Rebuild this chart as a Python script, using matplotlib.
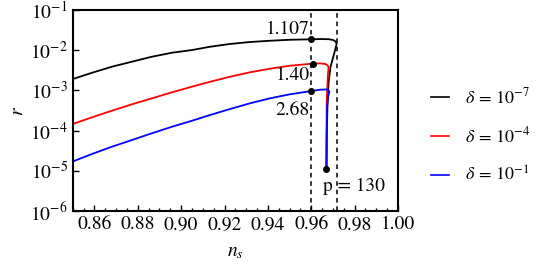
import matplotlib
matplotlib.use("Agg")
import matplotlib.pyplot as plt
from matplotlib.ticker import MultipleLocator, LogLocator, NullLocator

plt.rcParams["font.family"] = "STIXGeneral"
plt.rcParams["mathtext.fontset"] = "stix"

# n_s grid for the rising part of the curves
ns_main = [0.8497, 0.8589, 0.8681, 0.8773, 0.8865, 0.8958, 0.9050, 0.9133, 0.9225,
		   0.9317, 0.9409, 0.9501, 0.9601]

# black curve, delta = 1e-7
r_black_main = [1.89e-3, 2.75e-3, 3.89e-3, 5.18e-3, 6.89e-3, 8.67e-3, 1.01e-2, 1.22e-2, 1.43e-2,
				1.60e-2, 1.72e-2, 1.82e-2, 1.87e-2]
ns_black_tail = [0.9640, 0.9680, 0.9700, 0.9712, 0.9717, 0.9705, 0.9689, 0.9680, 0.9675, 0.9672, 0.9670]
r_black_tail = [1.90e-2, 1.88e-2, 1.80e-2, 1.65e-2, 1.43e-2, 8.0e-3, 3.9e-3, 1.6e-3, 5.0e-4, 1.0e-4, 1.1e-5]

# red curve, delta = 1e-4
r_red_main = [1.44e-4, 2.14e-4, 3.13e-4, 4.51e-4, 6.35e-4, 8.97e-4, 1.24e-3, 1.64e-3, 2.19e-3,
			  2.82e-3, 3.47e-3, 4.11e-3, 4.61e-3]
ns_red_tail = [0.9640, 0.9665, 0.9676, 0.9680, 0.9677, 0.9673, 0.9671, 0.9670]
r_red_tail = [4.70e-3, 4.55e-3, 4.2e-3, 3.7e-3, 2.5e-3, 1.0e-3, 4.0e-4, 1.1e-5]

# blue curve, delta = 1e-1
r_blue_main = [1.68e-5, 2.62e-5, 3.98e-5, 5.83e-5, 8.57e-5, 1.25e-4, 1.76e-4, 2.44e-4, 3.44e-4,
			   4.77e-4, 6.35e-4, 8.0e-4, 9.66e-4]
ns_blue_tail = [0.9640, 0.9671, 0.9680, 0.9683, 0.9678, 0.9673, 0.9671, 0.9670]
r_blue_tail = [1.04e-3, 1.06e-3, 1.0e-3, 9.3e-4, 7.0e-4, 3.94e-4, 7.1e-5, 1.1e-5]

dot_ns = [0.9600, 0.9607, 0.9600, 0.9670]
dot_r = [1.88e-2, 4.65e-3, 9.7e-4, 1.1e-5]

dot_labels = ["1.107", "1.40", "2.68"]
label_r = [3.3e-2, 2.4e-3, 3.2e-4]
vlines = [0.960, 0.9717]

fig = plt.figure(figsize=(5.45, 2.71), dpi=100)
ax = fig.add_axes([0.1334, 0.2214, 0.5969, 0.7416])

ax.plot(ns_main + ns_black_tail, r_black_main + r_black_tail, color="black", lw=1.3,
		label=r"$\delta\,=\,10^{-7}$")
ax.plot(ns_main + ns_red_tail, r_red_main + r_red_tail, color="red", lw=1.3,
		label=r"$\delta\,=\,10^{-4}$")
ax.plot(ns_main + ns_blue_tail, r_blue_main + r_blue_tail, color="blue", lw=1.3,
		label=r"$\delta\,=\,10^{-1}$")
ax.plot(dot_ns, dot_r, "o", color="black", ms=4, zorder=5)

for xv in vlines:
	ax.axvline(xv, color="black", ls=(0, (3, 2.5)), lw=1.1)

for txt, rv in zip(dot_labels, label_r):
	ax.text(0.9592, rv, txt, ha="right", va="center", fontsize=14)
ax.text(0.9652, 4.2e-6, "p = 130", ha="left", va="center", fontsize=14)

ax.set_xlim(0.85, 1.0)
ax.set_ylim(1e-6, 1e-1)
ax.set_yscale("log")
ax.xaxis.set_major_locator(MultipleLocator(0.02))
ax.xaxis.set_minor_locator(MultipleLocator(0.005))
ax.yaxis.set_major_locator(LogLocator(base=10, numticks=10))
ax.yaxis.set_minor_locator(NullLocator())
ax.xaxis.set_major_formatter(plt.FuncFormatter(lambda v, p: f"{v:.2f}"))

ax.tick_params(which="both", direction="in", top=False, right=False, labelsize=14, width=1.0)
ax.tick_params(which="major", length=4)
ax.tick_params(which="minor", length=2)
for s in ax.spines.values():
	s.set_linewidth(1.5)

ax.set_xlabel(r"$n_s$", fontsize=14, labelpad=8)
ax.set_ylabel(r"$r$", fontsize=14, labelpad=2)

leg = ax.legend(loc="center left", bbox_to_anchor=(1.05, 0.373), frameon=False, fontsize=13,
				handlelength=1.0, labelspacing=1.08, handletextpad=0.9)
for ln in leg.get_lines():
	ln.set_linewidth(1.2)

fig.savefig("out.png", dpi=100)
